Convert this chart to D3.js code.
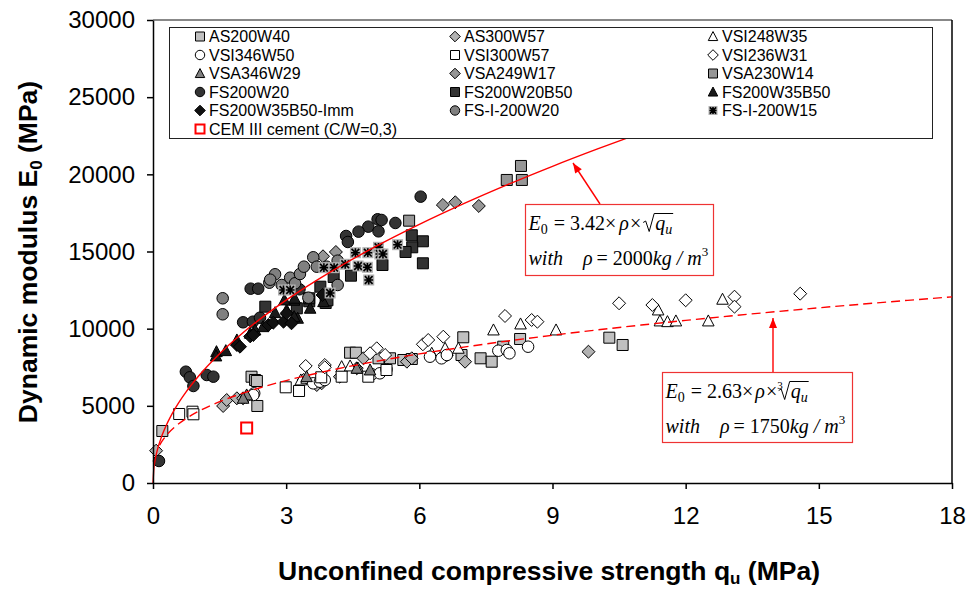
<!DOCTYPE html>
<html><head><meta charset="utf-8">
<script src="https://cdn.jsdelivr.net/npm/d3@7"></script>
<style>
html,body{margin:0;padding:0;background:#fff;}
svg{display:block;font-family:"Liberation Sans",Arial,sans-serif;}
</style></head>
<body>
<svg id="chart" width="968" height="591"></svg>
<script>
// ---------- data (q_u in MPa, E0 in MPa) ----------
const xTicks = [0, 3, 6, 9, 12, 15, 18];
const yTicks = [0, 5000, 10000, 15000, 20000, 25000, 30000];

const AS200W40 = [[0.21,3370],[2.22,6888],[2.30,6674],[2.34,6610],[2.35,4990],[4.44,8443],[4.57,8443],[5.08,8080],[5.34,8080],[5.64,7970],[5.83,8035],[6.99,9441],[7.38,8080],[7.63,7860],[7.89,8832],[8.27,9331],[6.95,8294],[10.28,9416],[10.58,8942]];
const AS300W57 = [[0.07,2093],[1.58,4990],[1.66,5378],[1.89,5488],[2.03,5488],[2.11,5592],[3.39,6674],[3.69,6350],[3.80,6460],[4.21,6888],[4.59,7433],[4.74,8080],[5.72,7860],[5.83,8080],[6.62,8294],[7.03,7860],[9.81,8508]];
const VSI248W35 = [[3.33,6674],[3.46,6785],[4.25,7536],[4.44,7582],[4.62,7433],[6.28,8405],[6.58,8728],[6.88,8728],[7.67,9914],[8.28,10303],[9.08,9914],[11.38,11210],[11.42,10498],[11.59,10452],[11.78,10498],[12.51,10498],[12.83,11904]];
const VSI346W50 = [[2.28,5813],[2.26,5702],[3.61,6460],[3.76,6564],[3.87,6674],[4.93,7044],[5.11,7108],[5.26,7368],[6.24,8184],[6.50,8080],[6.62,8294],[7.78,8573],[7.97,8618],[8.03,8405],[8.45,8832]];
const VSI300W57 = [[0.59,4471],[0.89,4620],[0.91,4452],[2.99,6201],[3.29,5962],[3.79,6849],[4.25,6888],[4.85,6888],[5.26,7322]];
const VSI236W31 = [[3.44,7582],[3.87,7646],[3.87,7497],[5.04,8728],[5.23,8294],[6.08,8988],[6.20,9266],[6.54,9480],[7.93,10822],[8.53,10562],[8.66,10452],[4.89,8405],[10.50,11645],[11.25,11534],[12.00,11839],[13.10,12072],[13.10,11425],[14.58,12267]];
const VSA346W29 = [[2.11,5702],[2.03,5488],[3.46,6888],[4.59,7433],[4.89,7322]];
const VSA249W17 = [[3.83,14690],[4.12,14969],[6.53,18014],[6.81,18190],[7.34,17950]];
const VSA230W14 = [[5.77,16997],[7.97,19635],[8.31,19635],[8.29,20542]];
const FS200W20 = [[6.03,18553],[5.06,17088],[5.15,17042],[5.46,16848],[4.85,16610],[4.63,16286],[4.35,16006],[4.39,15617],[5.08,16307],[2.20,12591],[2.37,12591],[2.03,10412],[2.25,10452],[2.41,10711],[0.74,7212],[0.83,6849],[0.91,6286],[1.21,6998],[1.36,6888],[0.135,1426],[3.30,12552]];
const FS200W20B50 = [[5.83,16051],[6.08,15662],[5.84,15273],[5.69,14969],[6.08,14236],[5.17,14126],[4.46,13433],[4.07,13349],[3.77,12720],[3.89,11664],[3.93,11839],[3.52,11774],[2.53,11425],[3.24,11320],[3.52,11969]];
const FS200W35B50 = [[3.18,11839],[3.54,11320],[2.75,11036],[3.84,11748],[3.26,10672],[1.43,8508],[1.42,8230],[1.64,8573],[1.89,9266],[2.19,9701],[2.30,9914],[2.48,10128],[3.01,11210],[3.18,10776],[2.96,11858],[3.19,11969]];
const FS200W35B50Imm = [[1.89,8942],[1.96,8832],[2.19,9500],[2.26,9590],[2.60,10238],[2.71,10388],[2.94,10452],[3.12,10349],[3.01,10996],[3.82,12182]];
const FSI200W20 = [[1.57,11969],[1.57,10932],[2.62,12980],[2.75,13524],[2.64,13174],[2.90,12830],[3.09,13303],[3.20,12940],[3.31,13543],[3.40,14017],[3.61,14625],[3.69,14017],[3.91,14017],[4.16,14405],[4.16,12830],[3.50,12008]];
const FSI200W15 = [[4.56,14923],[4.84,14923],[5.08,15273],[5.51,15442],[5.11,14839],[5.18,14839],[4.33,14172],[4.62,14062],[4.83,13977],[3.85,13952],[4.08,13952],[4.86,13154],[2.94,12506],[3.09,12506],[3.99,12312]];
const CEMIII = [[2.11,3564]];

// fitted laws shown on the chart: E0 = a * rho * qu^(1/n)
const fitUpper = {a: 3.42, rho: 2000, n: 2};
const fitLower = {a: 2.63, rho: 1750, n: 3};
const fitUpperQ = [0,0.02,0.05,0.1,0.2,0.3,0.5,0.75,1,1.5,2,2.5,3,4,5,6,7,8,9,10,11,12,13,14,15];
const fitLowerQ = [0.15,0.2,0.3,0.5,0.75,1,1.5,2,2.5,3,4,5,6,7,8,9,10,11,12,13,14,15,16,17,18];

// ---------- series table ----------
const series = [
  {name:"AS200W40", data:AS200W40, shape:"square", fill:"#c0c0c0"},
  {name:"AS300W57", data:AS300W57, shape:"diamond", fill:"#b2b2b2"},
  {name:"VSI248W35", data:VSI248W35, shape:"triangle", fill:"#ffffff"},
  {name:"VSI346W50", data:VSI346W50, shape:"circle", fill:"#ffffff"},
  {name:"VSI300W57", data:VSI300W57, shape:"square", fill:"#ffffff"},
  {name:"VSI236W31", data:VSI236W31, shape:"diamond", fill:"#ffffff"},
  {name:"VSA346W29", data:VSA346W29, shape:"triangle", fill:"#808080"},
  {name:"VSA249W17", data:VSA249W17, shape:"diamond", fill:"#969696"},
  {name:"VSA230W14", data:VSA230W14, shape:"square", fill:"#969696"},
  {name:"FS200W20", data:FS200W20, shape:"circle", fill:"#333333"},
  {name:"FS200W20B50", data:FS200W20B50, shape:"square", fill:"#333333"},
  {name:"FS200W35B50", data:FS200W35B50, shape:"triangle", fill:"#1a1a1a"},
  {name:"FS200W35B50-Imm", data:FS200W35B50Imm, shape:"diamond", fill:"#111111"},
  {name:"FS-I-200W20", data:FSI200W20, shape:"circle", fill:"#808080"},
  {name:"FS-I-200W15", data:FSI200W15, shape:"star", fill:"#b0b0b0"},
  {name:"CEM III cement (C/W=0,3)", data:CEMIII, shape:"redsquare", fill:"#ffffff"}
];

// ---------- layout ----------
const svg = d3.select("#chart");
const x = d3.scaleLinear().domain([0, 18]).range([153, 952]);
const y = d3.scaleLinear().domain([0, 30000]).range([483, 20]);

function markerPath(shape, s) {
  const h = s / 2;
  if (shape === "square" || shape === "redsquare" || shape === "star")
    return `M${-h},${-h}H${h}V${h}H${-h}Z`;
  if (shape === "diamond") { const d = h * 1.18; return `M0,${-d}L${d},0L0,${d}L${-d},0Z`; }
  if (shape === "triangle") return `M0,${-h*1.1}L${h*1.05},${h*0.9}L${-h*1.05},${h*0.9}Z`;
  if (shape === "circle") return d3.symbol(d3.symbolCircle, Math.PI * h * h * 1.1)();
  return "";
}
function drawMarker(g, s, size) {
  if (s.shape === "star") {
    const h = size / 2;
    g.append("path").attr("d", markerPath("square", size)).attr("fill", s.fill).attr("stroke", "none");
    g.append("path").attr("d", `M${-h*0.7},${-h*0.7}L${h*0.7},${h*0.7}M${h*0.7},${-h*0.7}L${-h*0.7},${h*0.7}M0,${-h*0.8}V${h*0.8}M${-h*0.8},0H${h*0.8}`)
      .attr("stroke", "#000").attr("stroke-width", 1.6);
  } else if (s.shape === "redsquare") {
    g.append("path").attr("d", markerPath("square", size)).attr("fill", "#fff").attr("stroke", "#ff0000").attr("stroke-width", 2);
  } else {
    g.append("path").attr("d", markerPath(s.shape, size)).attr("fill", s.fill).attr("stroke", "#000").attr("stroke-width", 1);
  }
}

// plot frame (top/right)
svg.append("line").attr("x1", x(0)).attr("x2", x(18)).attr("y1", y(30000)).attr("y2", y(30000)).attr("stroke", "#888").attr("stroke-width", 2);
svg.append("line").attr("x1", x(18)).attr("x2", x(18)).attr("y1", y(30000)).attr("y2", y(0)).attr("stroke", "#000").attr("stroke-width", 1.5);

// markers
const mg = svg.append("g");
series.forEach(s => {
  s.data.forEach(d => {
    const g = mg.append("g").attr("transform", `translate(${x(d[0])},${y(d[1])})`);
    drawMarker(g, s, 11);
  });
});

// fit curves
const upperPts = fitUpperQ.map(q => [q, fitUpper.a * fitUpper.rho * Math.pow(q, 1 / fitUpper.n)]);
const lowerPts = fitLowerQ.map(q => [q, fitLower.a * fitLower.rho * Math.pow(q, 1 / fitLower.n)]);
const curveGen = d3.line().curve(d3.curveMonotoneX).x(d => x(d[0])).y(d => y(d[1]));
svg.append("path").attr("d", curveGen(upperPts))
  .attr("fill", "none").attr("stroke", "#ff0000").attr("stroke-width", 1.4);
svg.append("path").attr("d", curveGen(lowerPts))
  .attr("fill", "none").attr("stroke", "#ff0000").attr("stroke-width", 1.4).attr("stroke-dasharray", "9,5");

// axes
const xAxis = svg.append("g").attr("transform", `translate(0,${y(0)})`)
  .call(d3.axisBottom(x).tickValues(xTicks).tickSize(6).tickSizeOuter(0).tickPadding(18).tickFormat(d3.format("d")));
const yAxis = svg.append("g").attr("transform", `translate(${x(0)},0)`)
  .call(d3.axisLeft(y).tickValues(yTicks).tickSize(6).tickSizeOuter(0).tickPadding(12).tickFormat(d3.format("d")));
[xAxis, yAxis].forEach(a => {
  a.selectAll("path,line").attr("stroke", "#000").attr("stroke-width", 1.5);
  a.selectAll("text").attr("font-size", 24).attr("fill", "#000").attr("font-family", '"Liberation Sans",Arial,sans-serif');
});

// axis titles
const xt = svg.append("text").attr("x", 549).attr("y", 580).attr("text-anchor", "middle")
  .attr("font-size", 26.5).attr("font-weight", "bold");
xt.append("tspan").text("Unconfined compressive strength q");
xt.append("tspan").attr("font-size", 17).attr("dy", 4).text("u");
xt.append("tspan").attr("dy", -4).text(" (MPa)");

const yt = svg.append("text").attr("transform", "translate(37,252) rotate(-90)").attr("text-anchor", "middle")
  .attr("font-size", 26.5).attr("font-weight", "bold");
yt.append("tspan").text("Dynamic modulus E");
yt.append("tspan").attr("font-size", 17).attr("dy", 5).text("0");
yt.append("tspan").attr("dy", -5).text(" (MPa)");

// legend
const lg = svg.append("g");
lg.append("rect").attr("x", 169.5).attr("y", 27.5).attr("width", 763).attr("height", 111)
  .attr("fill", "#fff").attr("stroke", "#222").attr("stroke-width", 1);
const colMarker = [200, 455, 713];
series.forEach((s, i) => {
  const col = i % 3, row = Math.floor(i / 3);
  const cy = 36.5 + row * 18.5;
  const g = lg.append("g").attr("transform", `translate(${colMarker[col]},${cy})`);
  drawMarker(g, s, 9);
  lg.append("text").attr("x", colMarker[col] + 9).attr("y", cy + 5.6).attr("font-size", 16).attr("fill", "#000").text(s.name);
});

// annotation boxes
const serif = '"Liberation Serif","Times New Roman",serif';
function richLine(g, x0, yb, parts) {
  let cx = x0;
  parts.forEach(p => {
    if (p.radical) {
      p.x0 = cx; cx += 12; p.x1 = cx; return;
    }
    const t = g.append("text").attr("x", cx).attr("y", yb + (p.dy || 0))
      .attr("font-family", serif).attr("font-size", p.size || 20)
      .attr("font-style", p.it ? "italic" : "normal").attr("fill", "#000").text(p.t);
    const w = t.node().getComputedTextLength();
    p.x0 = cx; p.x1 = cx + w; cx += w + (p.gap || 0);
  });
  return parts;
}
function radical(g, xr, xe, yb) {
  g.append("path").attr("d", `M${xr},${yb-7}L${xr+2.5},${yb-8.5}L${xr+6},${yb+2}L${xr+11},${yb-16}H${xe}`)
    .attr("fill", "none").attr("stroke", "#000").attr("stroke-width", 1);
}
function annotation(bx, by, bw, bh, eq1, eq2, arrow) {
  const g = svg.append("g");
  g.append("line").attr("x1", arrow[0]).attr("y1", arrow[1]).attr("x2", arrow[2]).attr("y2", arrow[3])
    .attr("stroke", "#ff0000").attr("stroke-width", 1.4);
  const ang = Math.atan2(arrow[3] - arrow[1], arrow[2] - arrow[0]);
  const L = 10, W = 4;
  const tx = arrow[2], ty = arrow[3];
  const bxp = tx - L * Math.cos(ang), byp = ty - L * Math.sin(ang);
  g.append("path").attr("d", `M${tx},${ty}L${bxp + W * Math.sin(ang)},${byp - W * Math.cos(ang)}L${bxp - W * Math.sin(ang)},${byp + W * Math.cos(ang)}Z`)
    .attr("fill", "#ff0000");
  g.append("rect").attr("x", bx).attr("y", by).attr("width", bw).attr("height", bh)
    .attr("fill", "#fff").attr("stroke", "#ee3333").attr("stroke-width", 1.2);
  const p1 = richLine(g, bx + 3, by + 25, eq1);
  const ri = p1.findIndex(p => p.radical);
  radical(g, p1[ri].x0, p1[p1.length - 1].x1 + 1, by + 25);
  richLine(g, bx + 3, by + 60, eq2);
}
annotation(525.5, 204.5, 188, 71,
  [{t:"E", it:true},{t:"0", size:14, dy:4, gap:6},{t:"= 3.42×", gap:3},{t:"ρ", it:true, gap:1},{t:"×", gap:2},{radical:true},{t:"q", it:true},{t:"u", it:true, size:14, dy:4}],
  [{t:"with", it:true, gap:20},{t:"ρ", it:true, gap:4},{t:"= 2000", gap:0},{t:"kg / m", it:true},{t:"3", size:13, dy:-9}],
  [600, 204, 573, 163]);
annotation(662.5, 372.5, 190, 70,
  [{t:"E", it:true},{t:"0", size:14, dy:4, gap:6},{t:"= 2.63×", gap:2},{t:"ρ", it:true, gap:1},{t:"×", gap:0},{t:"3", size:11, dy:-9, gap:-4},{radical:true},{t:"q", it:true},{t:"u", it:true, size:14, dy:4}],
  [{t:"with", it:true, gap:20},{t:"ρ", it:true, gap:4},{t:"= 1750", gap:0},{t:"kg / m", it:true},{t:"3", size:13, dy:-9}],
  [773, 372, 773, 318]);
</script>
</body></html>
